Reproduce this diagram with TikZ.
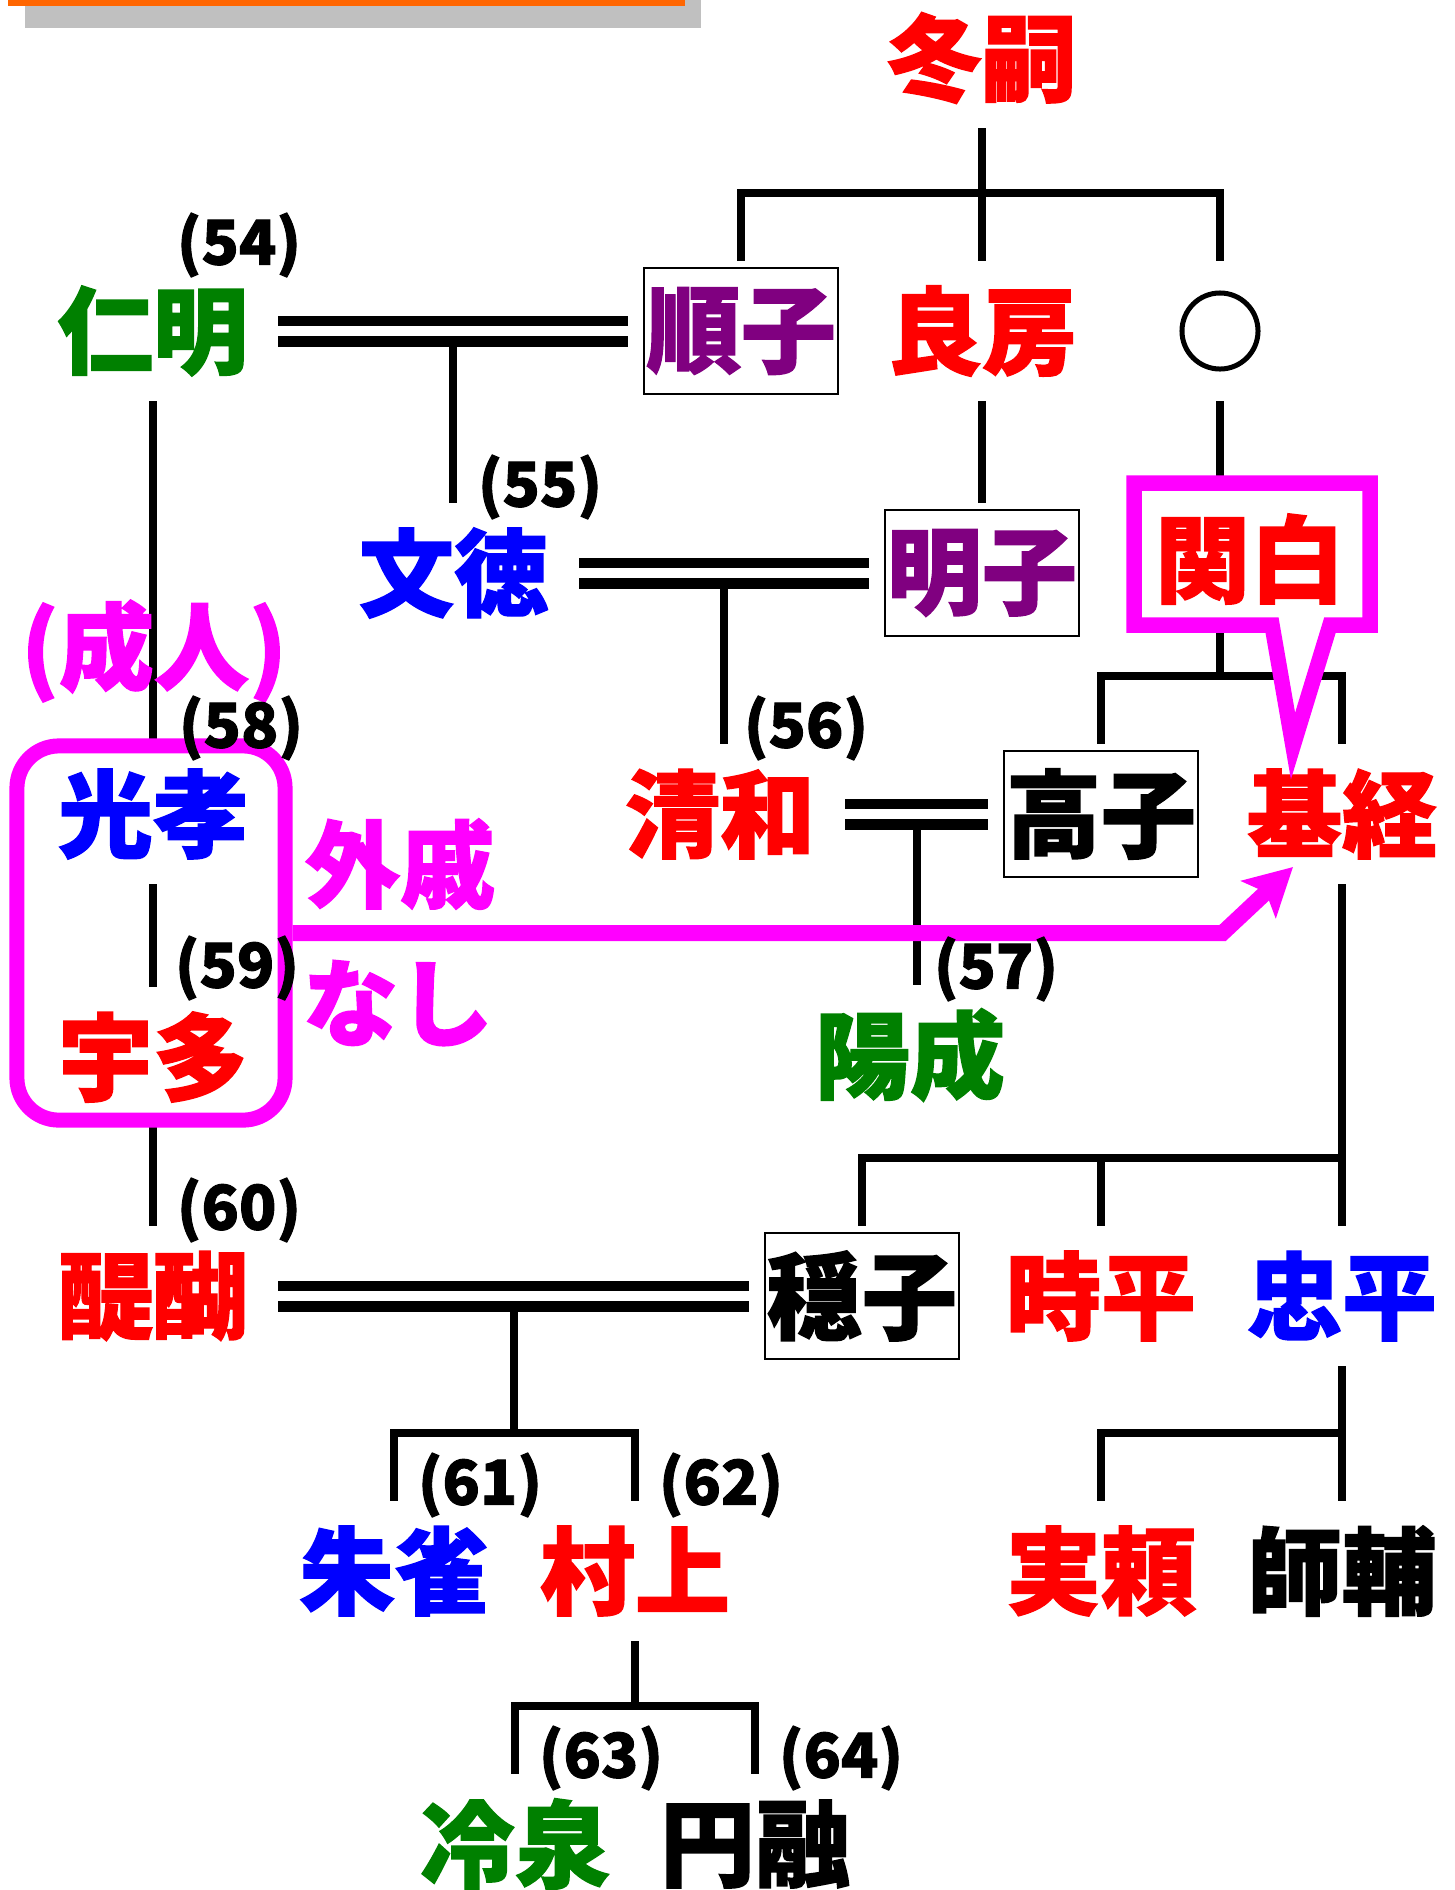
\documentclass[tikz,border=0pt]{standalone}
\usepackage{fontspec}
\setmainfont{Noto Sans CJK JP}[BoldFeatures={FakeBold=1.5}]
\usetikzlibrary{calc,arrows.meta}
\definecolor{kgreen}{HTML}{008000}
\definecolor{kpurple}{HTML}{800080}
\definecolor{kmagenta}{HTML}{FF00FF}
\definecolor{kgrey}{HTML}{C0C0C0}
\definecolor{korange}{HTML}{FF6600}
\newcommand{\meifont}{\fontsize{27pt}{30pt}\selectfont\bfseries}
\newcommand{\bangofont}{\fontsize{17.5pt}{20pt}\selectfont\bfseries}

\begin{document}
\begin{tikzpicture}[x=0.01cm,y=-0.01cm,
	nm/.style={font=\meifont,inner sep=0pt,minimum width=2.36cm,minimum height=1.26cm,outer xsep=0.07cm,outer ysep=0.07cm},
	hako/.style={nm,draw=black,line width=0.6pt,minimum width=1.94cm,outer xsep=0.16cm},
	num/.style={font=\bangofont,inner sep=0pt},
	ln/.style={line width=0.08cm},
	nijyu/.style={line width=0.105cm,double,double distance=0.1cm},
	momo/.style={kmagenta,line width=0.16cm}]
	\useasboundingbox (0,0) rectangle (1455,1890);
	%\draw[help lines,step=100] (0,0) grid (1455,1890);
	%BAR
	\fill[kgrey] (25,0) rectangle (701,28);
	\fill[korange] (8,0) rectangle (685,6);
	%NAMES
	\node[nm,red] (fuyutsugu) at (982,58) {冬嗣};
	\node[nm,kgreen] (ninmyo) at (153,331) {仁明};
	\node[hako,text=kpurple] (junshi) at (741,331) {順子};
	\node[nm,red] (yoshifusa) at (982,331) {良房};
	\node[draw,circle,line width=0.05cm,minimum size=0.76cm,inner sep=0pt,outer sep=0.32cm] (maru) at (1220,331) {};
	\node[nm,blue] (montoku) at (454,573) {文徳};
	\node[hako,text=kpurple] (akiko) at (982,573) {明子};
	\node[nm,red] (seiwa) at (720,814) {清和};
	\node[hako] (takaiko) at (1101,814) {高子};
	\node[nm,red] (mototsune) at (1342,814) {基経};
	\node[nm,blue] (koko) at (153,814) {光孝};
	\node[nm,kgreen] (yozei) at (910,1055) {陽成};
	\node[nm,red] (uda) at (153,1057) {宇多};
	\node[nm,red] (daigo) at (153,1296) {醍醐};
	\node[hako] (onshi) at (862,1296) {穏子};
	\node[nm,red] (tokihira) at (1101,1296) {時平};
	\node[nm,blue] (tadahira) at (1342,1296) {忠平};
	\node[nm,blue] (suzaku) at (394,1571) {朱雀};
	\node[nm,red] (murakami) at (635,1571) {村上};
	\node[nm,red] (saneyori) at (1101,1571) {実頼};
	\node[nm] (morosuke) at (1342,1571) {師輔};
	\node[nm,kgreen] (reizei) at (515,1844) {冷泉};
	\node[nm] (enyu) at (755,1844) {円融};
	%LINES
	\draw[ln] (fuyutsugu.south) -- (yoshifusa.north);
	\draw[ln] (junshi.north) |- ($(maru.north)+(0,-68)$) -- (maru.north);
	\draw[nijyu] (ninmyo.east) -- (junshi.west);
	\coordinate (m1) at ($(ninmyo.east)!.5!(junshi.west)$);
	\draw[ln] ($(m1)+(0,10)$) -- (m1 |- montoku.north);
	\draw[ln] (yoshifusa.south) -- (akiko.north);
	\draw[ln] (ninmyo.south) -- (koko.north);
	\draw[nijyu] (montoku.east) -- (akiko.west);
	\coordinate (m2) at ($(montoku.east)!.5!(akiko.west)$);
	\draw[ln] ($(m2)+(0,10)$) -- (m2 |- seiwa.north);
	\draw[ln] (maru.south) -- ($(maru.south |- takaiko.north)+(0,-68)$);
	\draw[ln] (takaiko.north) |- ($(mototsune.north)+(0,-68)$) -- (mototsune.north);
	\draw[nijyu] (seiwa.east) -- (takaiko.west);
	\coordinate (m3) at ($(seiwa.east)!.5!(takaiko.west)$);
	\draw[ln] ($(m3)+(0,10)$) -- (m3 |- yozei.north);
	\draw[ln] (koko.south) -- (uda.north);
	\draw[ln] (uda.south) -- (daigo.north);
	\draw[ln] (mototsune.south) -- (tadahira.north);
	\draw[ln] (onshi.north) |- ($(tadahira.north)+(0,-68)$);
	\draw[ln] (tokihira.north) -- ++(0,-68);
	\draw[nijyu] (daigo.east) -- (onshi.west);
	\coordinate (m4) at ($(daigo.east)!.5!(onshi.west)$);
	\draw[ln] ($(m4)+(0,10)$) -- ($(m4 |- suzaku.north)+(0,-68)$);
	\draw[ln] (suzaku.north) |- ($(murakami.north)+(0,-68)$) -- (murakami.north);
	\draw[ln] (tadahira.south) -- (morosuke.north);
	\draw[ln] (saneyori.north) |- ($(morosuke.north)+(0,-68)$);
	\draw[ln] (murakami.south) -- ($(murakami.south |- reizei.north)+(0,-68)$);
	\draw[ln] (reizei.north) |- ($(enyu.north)+(0,-68)$) -- (enyu.north);
	%GAISEKI NASHI
	\node[draw=kmagenta,line width=0.15cm,rounded corners=0.42cm,minimum width=2.68cm,minimum height=3.74cm] (kbox) at (151,933) {};
	\node[nm,kmagenta] (seijin) at (154,651) {(成人)};
	\node[nm,kmagenta] (gaiseki) at (400,864) {外戚};
	\node[nm,kmagenta] (nashi) at (398,1003) {なし};
	\draw[momo,-{Stealth[length=0.47cm,width=0.5cm,inset=0.1cm]}] (kbox.east) -- ++(930,0) -- ($(mototsune)+(-49,53)$);
	%NUMBERS
	\node[num] (n54) at ($(ninmyo)+(86,-86)$) {(54)};
	\node[num] (n55) at ($(montoku)+(86,-86)$) {(55)};
	\node[num] (n56) at ($(seiwa)+(86,-86)$) {(56)};
	\node[num] (n57) at ($(yozei)+(86,-86)$) {(57)};
	\node[num] (n58) at ($(koko)+(88,-86)$) {(58)};
	\node[num] (n59) at ($(uda)+(84,-89)$) {(59)};
	\node[num] (n60) at ($(daigo)+(86,-86)$) {(60)};
	\node[num] (n61) at ($(suzaku)+(86,-86)$) {(61)};
	\node[num] (n62) at ($(murakami)+(86,-86)$) {(62)};
	\node[num] (n63) at ($(reizei)+(86,-86)$) {(63)};
	\node[num] (n64) at ($(enyu)+(86,-86)$) {(64)};
	%KANPAKU
	\draw[kmagenta,line width=0.155cm,fill=white] (1134,483) -- (1370,483) -- (1370,625) -- (1330,625) -- (1293,746) -- (1272,625) -- (1134,625) -- cycle;
	\node[nm,red] (kanpaku) at (1250,559) {関白};
\end{tikzpicture}
\end{document}
